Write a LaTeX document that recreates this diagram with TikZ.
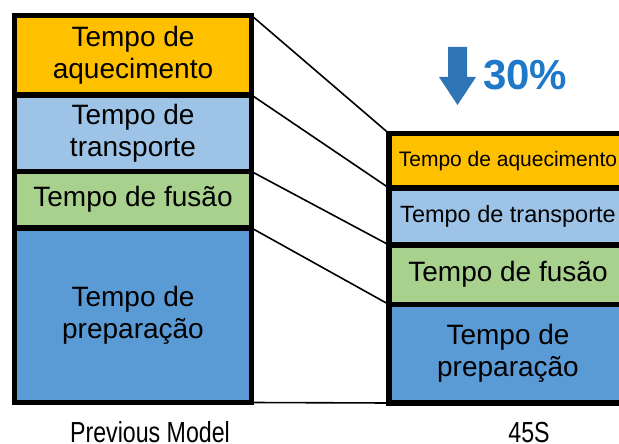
\documentclass[tikz,border=0pt]{standalone}
\usepackage{fontspec}
\setmainfont{Liberation Sans}
\newfontfamily\narrowfont[FakeStretch=0.8]{Liberation Sans}
\definecolor{cOrange}{HTML}{FFC000}
\definecolor{cLight}{HTML}{9DC3E6}
\definecolor{cGreen}{HTML}{A9D18E}
\definecolor{cDark}{HTML}{5B9BD5}
\definecolor{cArrow}{HTML}{2E75B6}
\definecolor{cPct}{HTML}{1F78C8}
\begin{document}
\begin{tikzpicture}[x=1pt,y=-1pt,
  blk/.style={draw=black, line width=5.5pt, inner sep=0pt, outer sep=0pt, align=center,
     font=\fontsize{28}{32}\selectfont},
  sblk/.style={blk, font=\fontsize{21}{25}\selectfont},
  tblk/.style={blk, font=\fontsize{23.5}{27}\selectfont},
  link/.style={draw=black, line width=1.6pt},
  lbl/.style={font=\narrowfont\fontsize{29}{32}\selectfont, anchor=base, inner sep=0pt}
]
\useasboundingbox (0,0) rectangle (619,444);
\begin{scope}
\clip (0,0) rectangle (619,444);
% left stack
\node[blk, fill=cOrange, minimum width=237pt, minimum height=79.5pt] (lo) at (133,55.25) {Tempo de\\aquecimento};
\node[blk, fill=cLight, minimum width=237pt, minimum height=76.5pt] (ll) at (133,133.25) {Tempo de\\transporte};
\node[blk, fill=cGreen, minimum width=237pt, minimum height=56.5pt] (lg) at (133,199.75) {Tempo de fusão};
\node[blk, fill=cDark, minimum width=237pt, minimum height=174.5pt] (ld) at (133,315.25) {Tempo de\\preparação};
% right stack
\node[sblk, fill=cOrange, minimum width=238pt, minimum height=54.5pt] (ro) at (508,160.75) {Tempo de aquecimento};
\node[tblk, fill=cLight, minimum width=238pt, minimum height=57pt] (rl) at (508,216.5) {Tempo de transporte};
\node[blk, fill=cGreen, minimum width=238pt, minimum height=59.5pt] (rg) at (508,274.75) {Tempo de fusão};
\node[blk, fill=cDark, minimum width=238pt, minimum height=98.5pt] (rd) at (508,353.75) {Tempo de\\preparação};
\end{scope}
\draw[link] (lo.north east) -- (ro.north west);
\draw[link] (ll.north east) -- (rl.north west);
\draw[link] (lg.north east) -- (rg.north west);
\draw[link] (ld.north east) -- (rd.north west);
\draw[link] (ld.south east) -- (rd.south west);
% arrow
\fill[cArrow] (448,47) -- (467,47) -- (467,77) -- (476,77) -- (457.5,105) -- (439,77) -- (448,77) -- cycle;
\node[anchor=base west, inner sep=0pt, text=cPct, font=\bfseries\fontsize{42}{46}\selectfont] (pct) at (483,90) {30\%};
% labels
\node[lbl] (prev) at (150,442.5) {Previous Model};
\node[lbl] (new) at (529,442.5) {45S};
\end{tikzpicture}
\end{document}
